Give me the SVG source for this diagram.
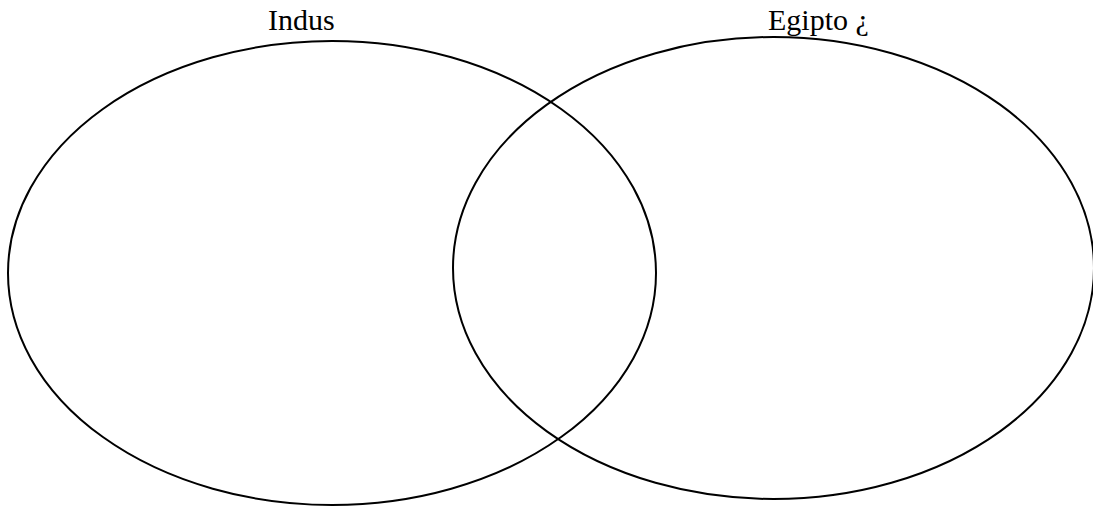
<svg xmlns="http://www.w3.org/2000/svg" width="1093" height="506" viewBox="0 0 1093 506">
<style>
.set{fill:none;stroke:#000;stroke-width:2}
.lbl{font-family:"Liberation Serif","Times New Roman",serif;font-size:30px;fill:#000}
</style>
<rect width="1093" height="506" fill="#fff"/>
<g id="indus">
<ellipse class="set" cx="332" cy="273" rx="324" ry="232"/>
<text class="lbl" x="268" y="30">Indus</text>
</g>
<g id="egipto">
<ellipse class="set" cx="773.5" cy="268" rx="320.5" ry="231"/>
<text class="lbl" x="768" y="30">Egipto ¿</text>
</g>
<g id="connectors"></g>
</svg>
